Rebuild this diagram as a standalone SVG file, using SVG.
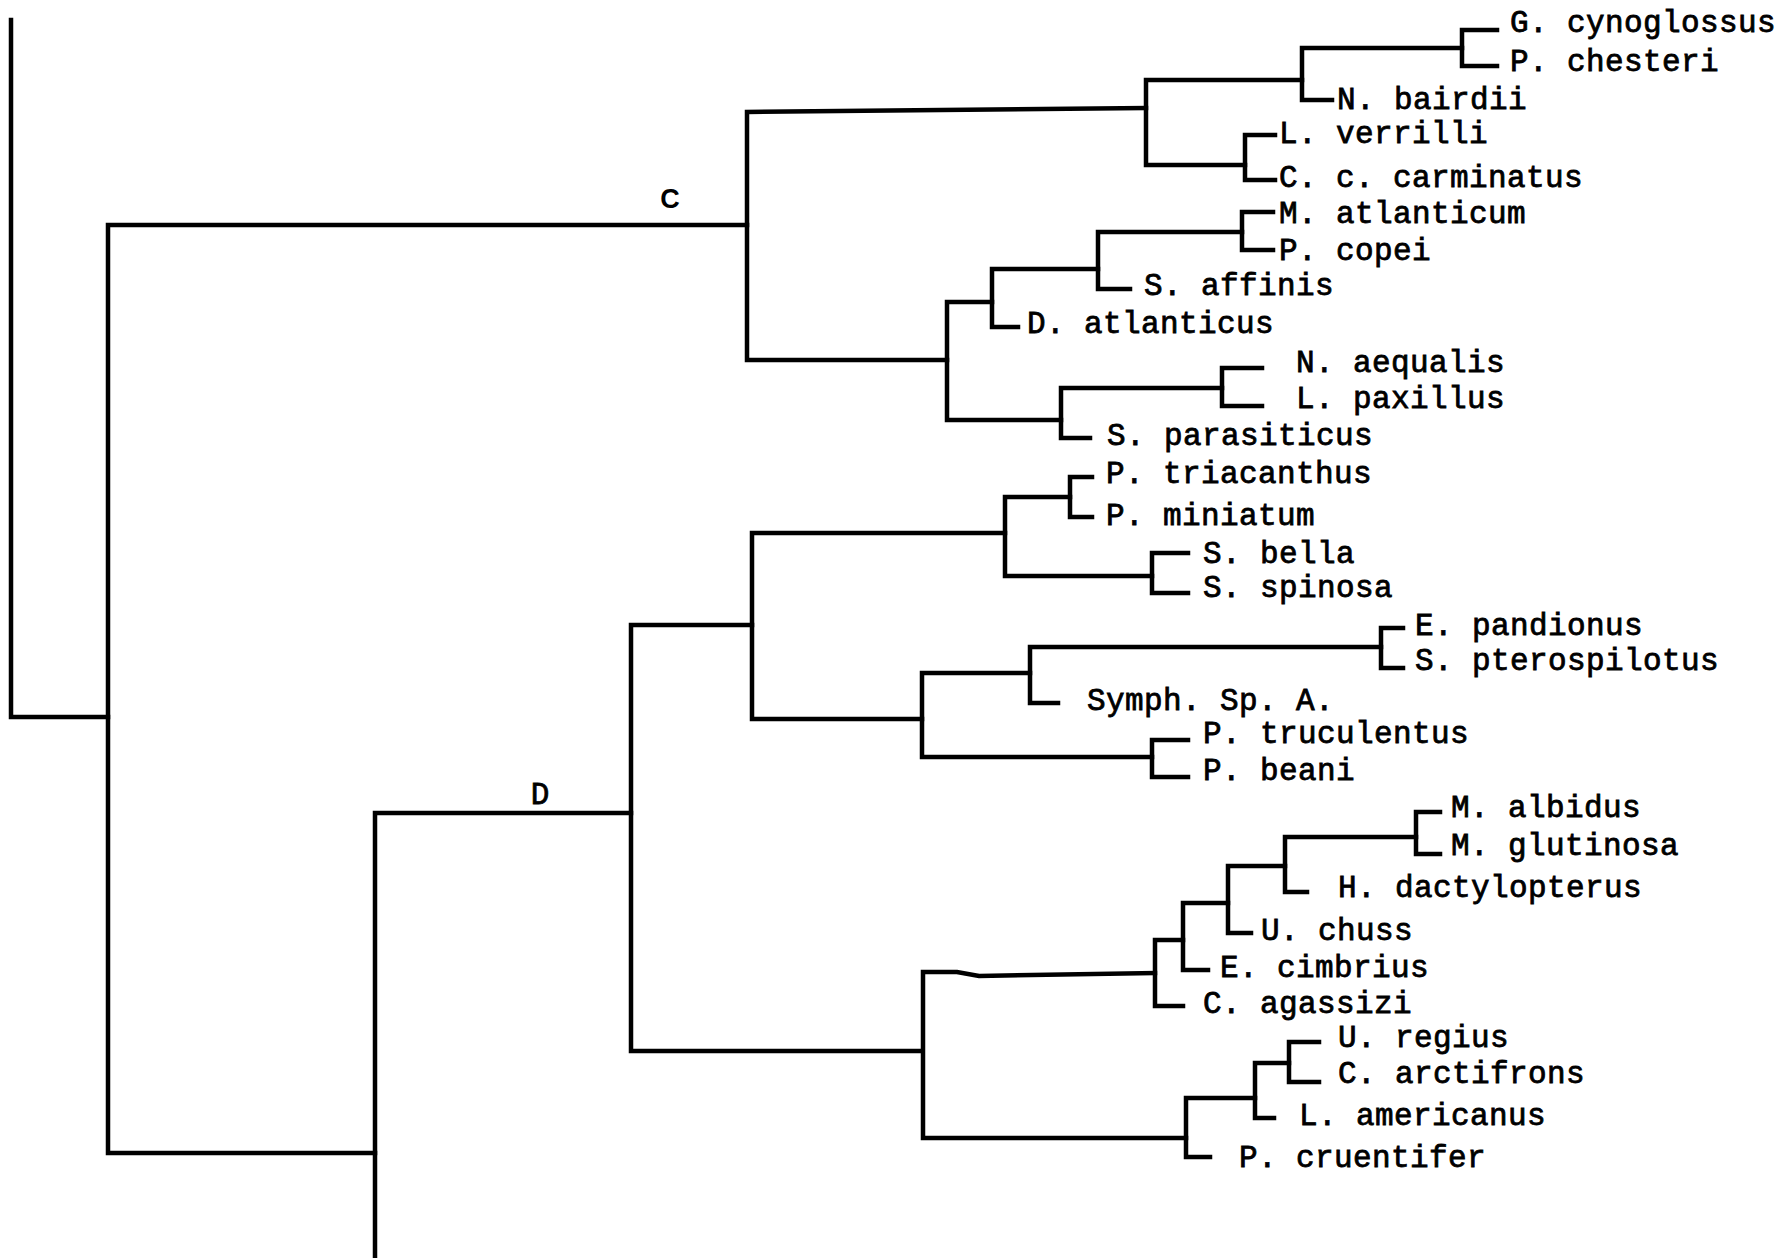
<svg xmlns="http://www.w3.org/2000/svg" width="1787" height="1258" viewBox="0 0 1787 1258">
<style>
.e{fill:none;stroke:#000;stroke-width:4.5;stroke-linejoin:miter;stroke-linecap:square}
.t{font-family:"Liberation Mono","Courier New",monospace;font-size:31px;letter-spacing:0.4px;fill:#000;stroke:#000;stroke-width:0.8px}
.c{font-family:"Liberation Sans",Arial,sans-serif;font-size:27px;fill:#000;text-anchor:middle;font-weight:bold}
.d{font-family:"Liberation Mono","Courier New",monospace;font-size:31px;fill:#000;stroke:#000;stroke-width:0.8px;text-anchor:middle}
</style>
<rect width="1787" height="1258" fill="#fff"/>
<g id="connectors">
<path class="e" d="M 11 20 V 717 H 108"/>
<path class="e" d="M 747 225 H 108 V 1153 H 375"/>
<path class="e" d="M 1146 108 L 747 112 V 360 H 947"/>
<path class="e" d="M 1302 80 H 1146 V 165 H 1245"/>
<path class="e" d="M 1462 48 H 1302 V 100 H 1332"/>
<path class="e" d="M 1497 30 H 1462 V 66 H 1497"/>
<path class="e" d="M 1275 135 H 1245 V 180 H 1275"/>
<path class="e" d="M 992 302 H 947 V 420 H 1061"/>
<path class="e" d="M 1098 269 H 992 V 327 H 1018"/>
<path class="e" d="M 1242 232 H 1098 V 289 H 1130"/>
<path class="e" d="M 1273 212 H 1242 V 250 H 1273"/>
<path class="e" d="M 1222 388 H 1061 V 438 H 1090"/>
<path class="e" d="M 1262 368 H 1222 V 406 H 1262"/>
<path class="e" d="M 375 1260 V 813 H 631"/>
<path class="e" d="M 752 625 H 631 V 1051 H 922"/>
<path class="e" d="M 1005 533 H 752 V 719 H 922"/>
<path class="e" d="M 1070 497 H 1005 V 576 H 1152"/>
<path class="e" d="M 1092 477 H 1070 V 517 H 1092"/>
<path class="e" d="M 1188 553 H 1152 V 593 H 1188"/>
<path class="e" d="M 1030 673 H 922 V 757 H 1152"/>
<path class="e" d="M 1381 647 H 1030 V 703 H 1058"/>
<path class="e" d="M 1403 628 H 1381 V 668 H 1403"/>
<path class="e" d="M 1188 740 H 1152 V 777 H 1188"/>
<path class="e" d="M 1155 973 L 979 976 L 957 972 H 923 V 1138 H 1186"/>
<path class="e" d="M 1183 940 H 1155 V 1006 H 1183"/>
<path class="e" d="M 1228 903 H 1183 V 970 H 1208"/>
<path class="e" d="M 1285 866 H 1228 V 933 H 1251"/>
<path class="e" d="M 1416 837 H 1285 V 892 H 1307"/>
<path class="e" d="M 1440 812 H 1416 V 854 H 1440"/>
<path class="e" d="M 1255 1098 H 1186 V 1157 H 1210"/>
<path class="e" d="M 1289 1063 H 1255 V 1118 H 1274"/>
<path class="e" d="M 1319 1042 H 1289 V 1082 H 1319"/>
</g>
<g id="label-C"><text class="c" x="670" y="208">C</text></g>
<g id="label-D"><text class="d" x="540" y="804">D</text></g>
<g id="n-g-cynoglossus"><text class="t" x="1510" y="32">G. cynoglossus</text></g>
<g id="n-p-chesteri"><text class="t" x="1510" y="71">P. chesteri</text></g>
<g id="n-n-bairdii"><text class="t" x="1337" y="109">N. bairdii</text></g>
<g id="n-l-verrilli"><text class="t" x="1279" y="143">L. verrilli</text></g>
<g id="n-c-c-carminatus"><text class="t" x="1279" y="187">C. c. carminatus</text></g>
<g id="n-m-atlanticum"><text class="t" x="1279" y="223">M. atlanticum</text></g>
<g id="n-p-copei"><text class="t" x="1279" y="260">P. copei</text></g>
<g id="n-s-affinis"><text class="t" x="1144" y="295">S. affinis</text></g>
<g id="n-d-atlanticus"><text class="t" x="1027" y="333">D. atlanticus</text></g>
<g id="n-n-aequalis"><text class="t" x="1296" y="372">N. aequalis</text></g>
<g id="n-l-paxillus"><text class="t" x="1296" y="408">L. paxillus</text></g>
<g id="n-s-parasiticus"><text class="t" x="1107" y="445">S. parasiticus</text></g>
<g id="n-p-triacanthus"><text class="t" x="1106" y="483">P. triacanthus</text></g>
<g id="n-p-miniatum"><text class="t" x="1106" y="525">P. miniatum</text></g>
<g id="n-s-bella"><text class="t" x="1203" y="563">S. bella</text></g>
<g id="n-s-spinosa"><text class="t" x="1203" y="597">S. spinosa</text></g>
<g id="n-e-pandionus"><text class="t" x="1415" y="635">E. pandionus</text></g>
<g id="n-s-pterospilotus"><text class="t" x="1415" y="670">S. pterospilotus</text></g>
<g id="n-symph-sp-a"><text class="t" x="1087" y="710">Symph. Sp. A.</text></g>
<g id="n-p-truculentus"><text class="t" x="1203" y="743">P. truculentus</text></g>
<g id="n-p-beani"><text class="t" x="1203" y="780">P. beani</text></g>
<g id="n-m-albidus"><text class="t" x="1451" y="817">M. albidus</text></g>
<g id="n-m-glutinosa"><text class="t" x="1451" y="855">M. glutinosa</text></g>
<g id="n-h-dactylopterus"><text class="t" x="1338" y="897">H. dactylopterus</text></g>
<g id="n-u-chuss"><text class="t" x="1261" y="940">U. chuss</text></g>
<g id="n-e-cimbrius"><text class="t" x="1220" y="977">E. cimbrius</text></g>
<g id="n-c-agassizi"><text class="t" x="1203" y="1013">C. agassizi</text></g>
<g id="n-u-regius"><text class="t" x="1338" y="1047">U. regius</text></g>
<g id="n-c-arctifrons"><text class="t" x="1338" y="1083">C. arctifrons</text></g>
<g id="n-l-americanus"><text class="t" x="1299" y="1125">L. americanus</text></g>
<g id="n-p-cruentifer"><text class="t" x="1239" y="1167">P. cruentifer</text></g>
</svg>
